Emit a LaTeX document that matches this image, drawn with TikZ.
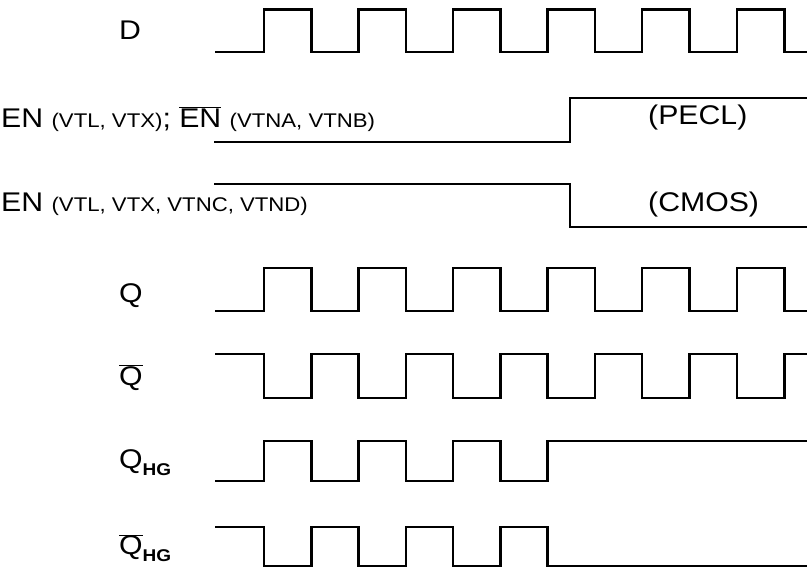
\documentclass[tikz,border=0pt]{standalone}
\usepackage{fontspec}
\setmainfont{Liberation Sans}[FakeStretch=1.12]
\newcommand{\bigtxt}{\fontsize{27}{30}\selectfont}
\newcommand{\smalltxt}{\fontsize{19.8}{20}\selectfont}
\newcommand{\subtxt}{\fontsize{17}{20}\selectfont\bfseries}
\tikzset{
  sig/.style={line width=2.5pt},
  lbl/.style={anchor=west, inner sep=0pt, font=\bigtxt}
}
\begin{document}
\begin{tikzpicture}[x=1pt, y=-1pt]
\useasboundingbox (0,0) rectangle (807,570);
% labels
\node[lbl] (d) at (119,30) {D};
\node[lbl] (enpecl) at (1,119) {EN {\smalltxt(VTL, VTX)}; $\overline{\mbox{EN}}$ {\smalltxt(VTNA, VTNB)}};
\node[lbl] (encmos) at (1,204) {EN {\smalltxt(VTL, VTX, VTNC, VTND)}};
\node[lbl] (pecl) at (648,118) {(PECL)};
\node[lbl] (cmos) at (648,205) {(CMOS)};
\node[lbl] (q) at (119,296) {Q};
\node[lbl] (qb) at (119,378) {$\overline{\mbox{Q}}$};
\node[lbl] (qhg) at (119,463) {Q\raisebox{-0.25em}{\subtxt HG}};
\node[lbl] (qhgb) at (119,548) {$\overline{\mbox{Q}}$\raisebox{-0.25em}{\subtxt HG}};
% D
\draw[sig] (215,52) foreach \x in {264,358.5,453,547.5,642,737} { -| (\x,9.5) -| ({\x+47.5},52) } -- (807,52);
% EN lines
\draw[sig] (214,142) -| (570,98) -- (807,98);
\draw[sig] (214,184) -| (570,227) -- (807,227);
% Q and Qbar
\draw[sig] (215,311) foreach \x in {264,358.5,453,547.5,642,737} { -| (\x,268) -| ({\x+47.5},311) } -- (807,311);
\draw[sig] (215,354) foreach \x in {264,358.5,453,547.5,642,737} { -| (\x,398) -| ({\x+47.5},354) } -- (807,354);
% gated outputs
\draw[sig] (215,481) foreach \x in {264,358.5,453} { -| (\x,441) -| ({\x+47.5},481) } -| (547.5,441) -- (807,441);
\draw[sig] (215,527) foreach \x in {264,358.5,453} { -| (\x,566) -| ({\x+47.5},527) } -| (547.5,566) -- (807,566);
\end{tikzpicture}
\end{document}
